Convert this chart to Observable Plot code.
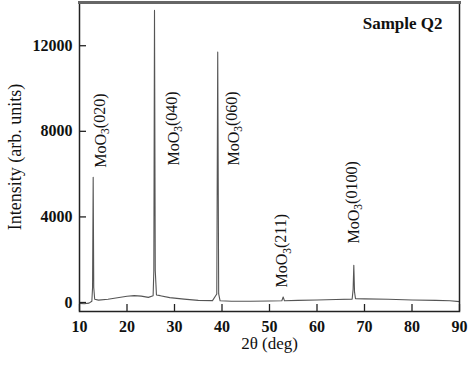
<!DOCTYPE html>
<html>
<head>
<meta charset="utf-8">
<script src="https://cdn.jsdelivr.net/npm/d3@7"></script>
<script src="https://cdn.jsdelivr.net/npm/@observablehq/plot@0.6"></script>
<style>
  html, body { margin: 0; padding: 0; background: #fff; }
  #chart svg { display: block; }
</style>
</head>
<body>
<div id="chart"></div>
<script>
// Diffraction pattern (2θ in degrees, intensity in arb. units)
const twoTheta = [10.0, 11.0, 12.0, 12.6, 12.75, 12.88, 13.0, 13.2, 14, 16, 18, 20, 21.5, 23, 24.5, 25.5, 25.65, 25.79, 25.95, 26.2, 27, 29, 32, 35, 38, 38.9, 39.1, 39.3, 39.6, 42, 46, 50, 52.6, 52.88, 53.15, 56, 60, 64, 67.4, 67.6, 67.75, 67.9, 68.1, 70, 75, 80, 85, 88, 90];
const intensity = [-40, -60, -30, 60, 700, 5850, 700, 150, 110, 150, 220, 290, 320, 300, 240, 320, 1500, 13650, 1500, 350, 320, 230, 160, 100, 90, 400, 11700, 400, 80, 60, 60, 70, 80, 260, 80, 100, 120, 140, 160, 600, 1740, 500, 180, 170, 150, 120, 100, 80, 40];

// Peak annotations
const peakLabels = ["MoO3(020)", "MoO3(040)", "MoO3(060)", "MoO3(211)", "MoO3(0100)"];
const peakLabelX = [14.5, 29.8, 42.4, 52.7, 67.7];
const peakLabelY = [6300, 6400, 6400, 700, 2760];

const xTicks = [10, 20, 30, 40, 50, 60, 70, 80, 90];
const yTicks = [0, 4000, 8000, 12000];

const pattern = twoTheta.map((t, i) => ({t, v: intensity[i]}));
const labels = peakLabels.map((s, i) => ({s, x: peakLabelX[i], y: peakLabelY[i]}));

const serif = "'Liberation Serif', 'Times New Roman', serif";

const chart = Plot.plot({
  width: 474,
  height: 375,
  marginTop: 2,
  marginBottom: 64,
  marginLeft: 79,
  marginRight: 15,
  style: {fontFamily: serif, background: "#fff", color: "#111"},
  x: {domain: [10, 90]},
  y: {domain: [-420, 14020]},
  marks: [
    Plot.line(pattern, {x: "t", y: "v", stroke: "#555", strokeWidth: 1.1}),
    Plot.frame({stroke: "#222", strokeWidth: 1.5}),
    Plot.frame({anchor: "top", stroke: "#666", strokeWidth: 3}),
    // inward ticks
    Plot.axisX({ticks: xTicks, tickSize: 7, dy: -7, text: null, stroke: "#222", strokeWidth: 1.3}),
    Plot.axisY({ticks: yTicks, tickSize: 7, dx: 7, text: null, stroke: "#222", strokeWidth: 1.3}),
    // tick labels
    Plot.axisX({ticks: xTicks, tickSize: 0, tickPadding: 9, tickFormat: "d", label: null, fontSize: 16, fontWeight: "bold", fontFamily: serif, fill: "#111"}),
    Plot.axisY({ticks: yTicks, tickSize: 0, tickPadding: 7, tickFormat: "d", label: null, fontSize: 16, fontWeight: "bold", fontFamily: serif, fill: "#111"}),
    // axis titles
    Plot.text(["Intensity (arb. units)"], {frameAnchor: "left", rotate: -90, dx: -64, lineAnchor: "middle", textAnchor: "middle", fontSize: 18, fontFamily: serif, fill: "#111"}),
    Plot.text(["2θ (deg)"], {frameAnchor: "bottom", dy: 32, lineAnchor: "middle", textAnchor: "middle", fontSize: 17, fontFamily: serif, fill: "#111"}),
    Plot.text(["Sample Q2"], {frameAnchor: "top-right", dx: -17, dy: 21, lineAnchor: "middle", textAnchor: "end", fontSize: 17, fontWeight: "bold", fontFamily: serif, fill: "#111"}),
    // peak labels
    Plot.text(labels, {x: "x", y: "y", text: "s", rotate: -90, textAnchor: "start", lineAnchor: "middle", fontSize: 16, fontFamily: serif, fill: "#111"})
  ]
});

// Render "3" in MoO3 as a subscript
d3.select(chart).selectAll("text").each(function () {
  const t = this.textContent;
  const m = /^MoO3(\(.*\))$/.exec(t);
  if (!m) return;
  const sel = d3.select(this);
  sel.text(null);
  sel.append("tspan").text("MoO");
  sel.append("tspan").attr("dy", "0.3em").attr("font-size", "0.72em").text("3");
  sel.append("tspan").attr("dy", "-0.3em").text(m[1]);
});

document.getElementById("chart").appendChild(chart);
</script>
</body>
</html>
